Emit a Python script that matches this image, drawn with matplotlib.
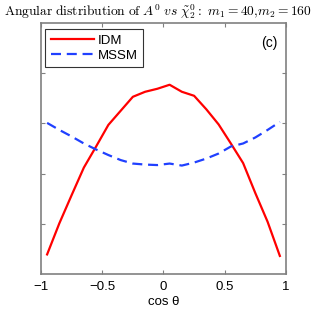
import numpy as np
import matplotlib
matplotlib.use("Agg")
from matplotlib import pyplot as plt

# bin centres of cos(theta)
cos_theta = [-0.95, -0.85, -0.75, -0.65, -0.55, -0.45, -0.35, -0.25, -0.15, -0.05,
             0.05, 0.15, 0.25, 0.35, 0.45, 0.55, 0.65, 0.75, 0.85, 0.95]
idm = [0.39, 1.01, 1.57, 2.12, 2.54, 2.97, 3.25, 3.53, 3.63, 3.69,
       3.77, 3.63, 3.55, 3.28, 2.98, 2.60, 2.21, 1.61, 1.04, 0.36]
mssm = [3.01, 2.87, 2.74, 2.60, 2.48, 2.37, 2.27, 2.20, 2.18, 2.17,
        2.20, 2.16, 2.22, 2.30, 2.40, 2.54, 2.60, 2.72, 2.87, 3.03]
xticks = [-1, -0.5, 0, 0.5, 1]
xticklabels = ["\u22121", "\u22120.5", "0", "0.5", "1"]

plt.rcParams['font.family'] = ['Liberation Sans', 'DejaVu Sans']
plt.rcParams['mathtext.fontset'] = 'cm'

fig = plt.figure(figsize=(3.16, 3.16), dpi=100)
ax = fig.add_axes([0.1297, 0.1329, 0.7753, 0.7943])

ax.plot(cos_theta, idm, color="#ff0000", lw=1.6, label="IDM")
ax.plot(cos_theta, mssm, color="#2040ff", lw=1.6, ls=(0, (4.5, 2.6)), label="MSSM")

ax.set_xlim(-1, 1)
ax.set_ylim(0, 5)
ax.set_xticks(xticks)
ax.set_xticklabels(xticklabels, fontsize=9.5)
ax.set_yticks([1, 2, 3, 4])
ax.set_yticklabels([])
ax.tick_params(direction="in", length=3, color="#808080", top=True, right=True, pad=5)
for s in ax.spines.values():
    s.set_color("#808080")
    s.set_linewidth(1.2)

ax.set_xlabel("cos \u03b8", fontsize=9.5, labelpad=2)

leg = ax.legend(loc="upper left", fontsize=9.5, frameon=True, fancybox=False,
                handlelength=3.3, handletextpad=0.3, borderpad=0.4, labelspacing=0.22,
                bbox_to_anchor=(0.018, 0.976), borderaxespad=0)
leg.get_frame().set_edgecolor("black")
leg.get_frame().set_linewidth(0.8)

ax.text(0.967, 0.922, "(c)", transform=ax.transAxes, ha="right", va="center", fontsize=10)

fig.text(0.5, 0.965,
         r"$\mathrm{Angular\ distribution\ of}\ A^0\ vs\ \tilde{\chi}^0_2\mathrm{:}\ m_1{=}40{,}m_2{=}160$",
         ha="center", va="center", fontsize=9.7)

fig.savefig("out.png", dpi=100)
